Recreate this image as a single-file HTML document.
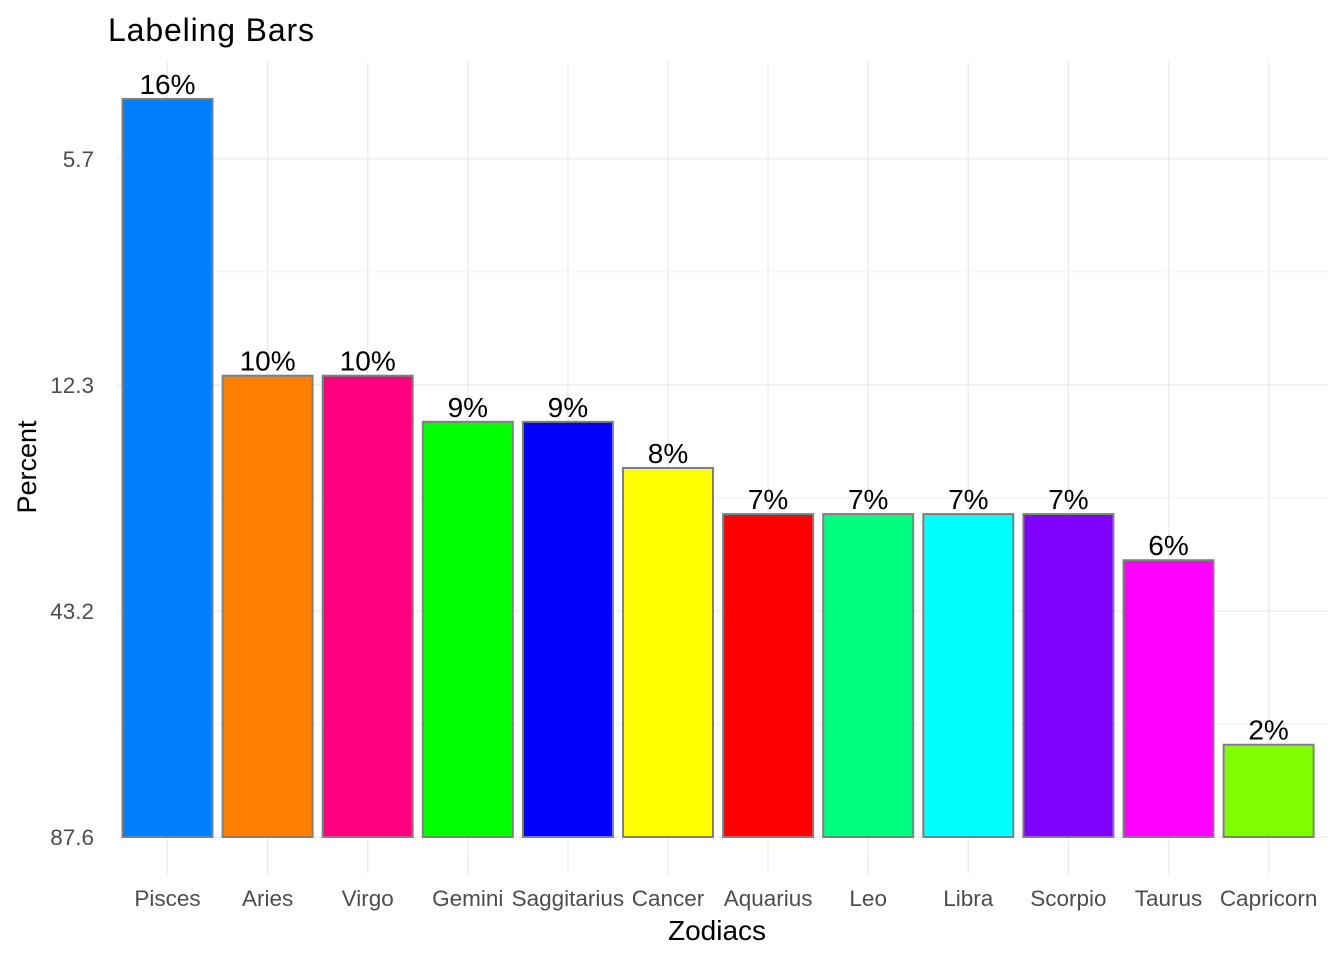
<!DOCTYPE html>
<html><head><meta charset="utf-8"><style>
body{margin:0;background:#fff;}
svg text{font-family:"Liberation Sans",Arial,sans-serif;}
</style></head><body>
<svg id="chart" width="1344" height="960" xmlns="http://www.w3.org/2000/svg">
<text x="108" y="41" font-size="32" fill="#000" textLength="206">Labeling Bars</text>
<g id="grid"></g><g id="bars"></g><g id="labels"></g><g id="ticks"></g>
<text x="717" y="940" font-size="28" text-anchor="middle" fill="#000">Zodiacs</text>
<text transform="translate(36,467) rotate(-90)" font-size="27" text-anchor="middle" fill="#000">Percent</text>
</svg>
<script>
const categories=["Pisces","Aries","Virgo","Gemini","Saggitarius","Cancer","Aquarius","Leo","Libra","Scorpio","Taurus","Capricorn"];
const values=[16,10,10,9,9,8,7,7,7,7,6,2];
const colors=["#0080FF","#FF8000","#FF0080","#00FF00","#0000FF","#FFFF00","#FF0000","#00FF80","#00FFFF","#8000FF","#FF00FF","#80FF00"];
const tickValues=[0,4.9,9.8,14.7];
const tickLabels=["87.6","43.2","12.3","5.7"];
const NS="http://www.w3.org/2000/svg";
const y0=837, pxPer=46.13;
const y=v=>y0-v*pxPer;
const x=i=>167.5+i*100.1;
const bw=90;
function mk(t,a,p){const e=document.createElementNS(NS,t);for(const k in a)e.setAttribute(k,a[k]);document.getElementById(p).appendChild(e);return e;}
for(let i=0;i<tickValues.length;i++){
  const gl=mk('line',{x1:118,x2:1328,y1:y(tickValues[i]),y2:y(tickValues[i]),stroke:'#ebebeb','stroke-width':1.3},'grid');
  
  
  if(i<tickValues.length-1){
    const m=(tickValues[i]+tickValues[i+1])/2;
    const ml=mk('line',{x1:118,x2:1328,y1:y(m),y2:y(m),stroke:'#f2f2f2','stroke-width':1},'grid');
    
    
  }
  const t=mk('text',{x:94,y:y(tickValues[i])+8,'font-size':22.5,'text-anchor':'end',fill:'#4d4d4d'},'ticks');
  t.textContent=tickLabels[i];
  
  
}
categories.forEach((c,i)=>{
  const vl=mk('line',{x1:x(i),x2:x(i),y1:62,y2:874,stroke:'#ebebeb','stroke-width':1.3},'grid');
  
  
  const r=mk('rect',{x:x(i)-bw/2,y:y(values[i]),width:bw,height:y0-y(values[i]),fill:colors[i],stroke:'#808080','stroke-width':2},'bars');
  
  
  const l=mk('text',{x:x(i),y:y(values[i])-5,'font-size':28,'text-anchor':'middle',fill:'#000'},'labels');
  l.textContent=values[i]+'%';
  
  
  const t=mk('text',{x:x(i),y:906,'font-size':22.5,'text-anchor':'middle',fill:'#4d4d4d'},'ticks');
  t.textContent=c;
  
  
});
</script>
</body></html>
